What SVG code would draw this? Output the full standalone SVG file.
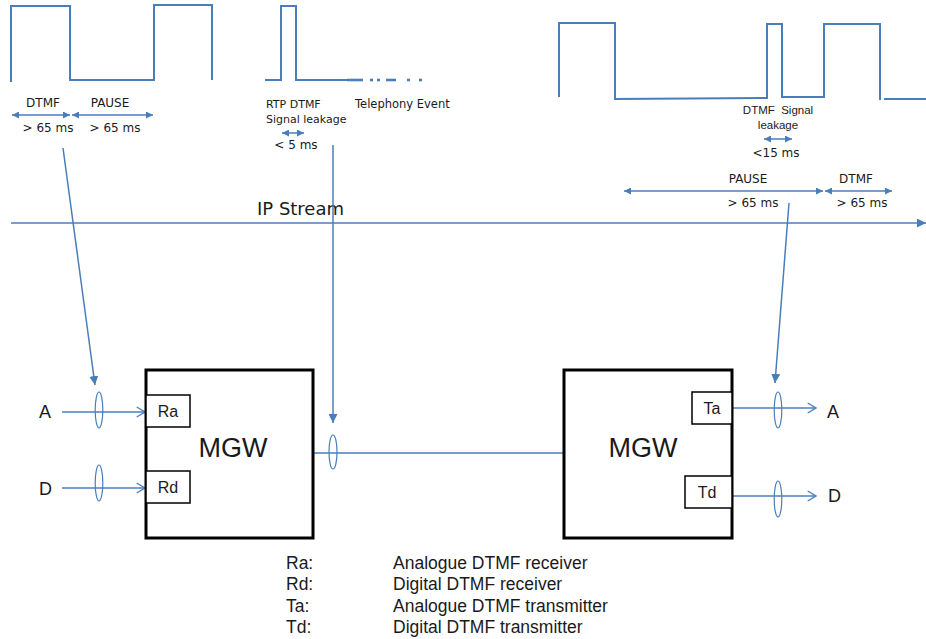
<svg xmlns="http://www.w3.org/2000/svg" width="926" height="639" viewBox="0 0 926 639">
<style>
  .w{fill:none;stroke:#4A7EBB;stroke-width:2}
  .ln{fill:none;stroke:#4A7EBB;stroke-width:1.5}
  .el{fill:none;stroke:#4A7EBB;stroke-width:1.2}
  .t{font-family:"DejaVu Sans",Verdana,sans-serif;fill:#1a1a1a}
  .a{font-family:"Liberation Sans",Arial,sans-serif;fill:#1a1a1a}
  .box{fill:#fff;stroke:#000;stroke-width:3}
  .sub{fill:#fff;stroke:#000;stroke-width:1.5}
</style>
<defs>
  <marker id="fa" viewBox="0 0 10 10" refX="10" refY="5" markerWidth="9" markerHeight="9" markerUnits="userSpaceOnUse" orient="auto-start-reverse">
    <path d="M0,0 L10,5 L0,10 z" fill="#4A7EBB"/>
  </marker>
  <marker id="fs" viewBox="0 0 10 10" refX="10" refY="5" markerWidth="7" markerHeight="7" markerUnits="userSpaceOnUse" orient="auto-start-reverse">
    <path d="M0,0 L10,5 L0,10 z" fill="#4A7EBB"/>
  </marker>
  <marker id="oa" viewBox="0 0 12 14" refX="11" refY="7" markerWidth="10" markerHeight="12" markerUnits="userSpaceOnUse" orient="auto">
    <path d="M1,1 L11,7 L1,13" fill="none" stroke="#4A7EBB" stroke-width="1.6"/>
  </marker>
</defs>
<rect width="926" height="639" fill="#fff"/>

<!-- waveforms -->
<g id="waveforms">
  <polyline class="w" points="11,82 11,6 70,6 70,80 154,80 154,5 212,5 212,80"/>
  <polyline class="w" points="265,80 281,80 281,6 296,6 296,80 347,80"/>
  <g stroke="#4A7EBB" stroke-width="2.6">
    <line x1="347" y1="80" x2="363" y2="80"/>
    <line x1="370" y1="80" x2="373" y2="80"/>
    <line x1="377" y1="80" x2="380" y2="80"/>
    <line x1="386" y1="80" x2="396" y2="80"/>
    <line x1="407" y1="80" x2="410" y2="80"/>
    <line x1="419" y1="80" x2="422" y2="80"/>
  </g>
  <polyline class="w" points="559,97 559,23 615,23 615,99 767,98 767,24 782,24 782,97 824,97 824,24 880,24 880,100"/>
  <line class="w" x1="884" y1="99" x2="926" y2="99"/>
</g>

<!-- labels -->
<g id="labels">
  <text class="t" x="43" y="107" font-size="12" text-anchor="middle">DTMF</text>
  <text class="t" x="110" y="107" font-size="12" text-anchor="middle">PAUSE</text>
  <text class="t" x="48" y="132" font-size="12" text-anchor="middle">&gt; 65 ms</text>
  <text class="t" x="115" y="132" font-size="12" text-anchor="middle">&gt; 65 ms</text>
  <text class="t" x="266" y="108" font-size="11">RTP DTMF</text>
  <text class="t" x="266" y="123" font-size="11">Signal leakage</text>
  <text class="t" x="355" y="108" font-size="11.5">Telephony Event</text>
  <text class="t" x="296" y="149" font-size="12" text-anchor="middle">&lt; 5 ms</text>
  <text class="a" x="778" y="114" font-size="11.5" text-anchor="middle" xml:space="preserve">DTMF  Signal</text>
  <text class="a" x="778" y="129" font-size="11.5" text-anchor="middle">leakage</text>
  <text class="t" x="776" y="157" font-size="12" text-anchor="middle">&lt;15 ms</text>
  <text class="t" x="748" y="183" font-size="12" text-anchor="middle">PAUSE</text>
  <text class="t" x="856" y="183" font-size="12" text-anchor="middle">DTMF</text>
  <text class="t" x="753" y="207" font-size="12" text-anchor="middle">&gt; 65 ms</text>
  <text class="t" x="862" y="207" font-size="12" text-anchor="middle">&gt; 65 ms</text>
  <text class="t" x="257" y="215" font-size="18">IP Stream</text>
  <text class="a" x="39" y="418" font-size="18">A</text>
  <text class="a" x="39" y="495" font-size="18">D</text>
  <text class="a" x="827" y="418" font-size="18">A</text>
  <text class="a" x="828" y="502" font-size="18">D</text>
</g>

<!-- connectors -->
<g id="connectors">
  <line class="ln" x1="12" y1="115" x2="70" y2="115" marker-start="url(#fs)" marker-end="url(#fs)"/>
  <line class="ln" x1="72" y1="115" x2="153" y2="115" marker-start="url(#fs)" marker-end="url(#fs)"/>
  <line class="ln" x1="282" y1="133" x2="304" y2="133" marker-start="url(#fs)" marker-end="url(#fs)"/>
  <line class="ln" x1="764" y1="139" x2="792" y2="139" marker-start="url(#fs)" marker-end="url(#fs)"/>
  <line class="ln" x1="624" y1="191" x2="823" y2="191" marker-start="url(#fs)" marker-end="url(#fs)"/>
  <line class="ln" x1="825" y1="191" x2="892" y2="191" marker-start="url(#fs)" marker-end="url(#fs)"/>
  <line class="ln" x1="11" y1="223" x2="926" y2="223" marker-end="url(#fa)"/>
  <line class="ln" x1="63" y1="148" x2="95" y2="385" marker-end="url(#fa)"/>
  <line class="ln" x1="333" y1="145" x2="333" y2="423" marker-end="url(#fa)"/>
  <line class="ln" x1="789" y1="203" x2="775" y2="383" marker-end="url(#fa)"/>
  <line class="ln" x1="313" y1="453" x2="564" y2="453"/>
  <line class="ln" x1="62" y1="412" x2="145" y2="412" marker-end="url(#oa)"/>
  <line class="ln" x1="62" y1="488" x2="145" y2="488" marker-end="url(#oa)"/>
  <line class="ln" x1="732" y1="408" x2="816" y2="408" marker-end="url(#oa)"/>
  <line class="ln" x1="732" y1="496" x2="816" y2="496" marker-end="url(#oa)"/>
  <ellipse class="el" cx="99" cy="410" rx="3.8" ry="18"/>
  <ellipse class="el" cx="99" cy="483" rx="3.8" ry="18"/>
  <ellipse class="el" cx="333" cy="452" rx="4" ry="17"/>
  <ellipse class="el" cx="778" cy="410" rx="3.8" ry="18"/>
  <ellipse class="el" cx="778" cy="499" rx="3.8" ry="18"/>
</g>

<!-- nodes -->
<g id="mgw-left">
  <rect class="box" x="146" y="370" width="167" height="168"/>
  <text class="a" x="233" y="457" font-size="27" text-anchor="middle">MGW</text>
</g>
<g id="ra">
  <rect class="sub" x="146" y="395" width="44" height="32"/>
  <text class="a" x="168" y="417" font-size="16" text-anchor="middle">Ra</text>
</g>
<g id="rd">
  <rect class="sub" x="146" y="471" width="44" height="32"/>
  <text class="a" x="168" y="493" font-size="16" text-anchor="middle">Rd</text>
</g>
<g id="mgw-right">
  <rect class="box" x="564" y="370" width="168" height="168"/>
  <text class="a" x="643" y="457" font-size="27" text-anchor="middle">MGW</text>
</g>
<g id="ta">
  <rect class="sub" x="692" y="392" width="40" height="32"/>
  <text class="a" x="712" y="414" font-size="16" text-anchor="middle">Ta</text>
</g>
<g id="td">
  <rect class="sub" x="685" y="476" width="47" height="32"/>
  <text class="a" x="707" y="498" font-size="16" text-anchor="middle">Td</text>
</g>

<!-- legend -->
<g id="legend" class="a" font-size="17.5">
  <text class="a" x="286" y="569">Ra:</text>
  <text class="a" x="393" y="569">Analogue DTMF receiver</text>
  <text class="a" x="286" y="590">Rd:</text>
  <text class="a" x="393" y="590">Digital DTMF receiver</text>
  <text class="a" x="286" y="612">Ta:</text>
  <text class="a" x="393" y="612">Analogue DTMF transmitter</text>
  <text class="a" x="286" y="633">Td:</text>
  <text class="a" x="393" y="633">Digital DTMF transmitter</text>
</g>
</svg>
